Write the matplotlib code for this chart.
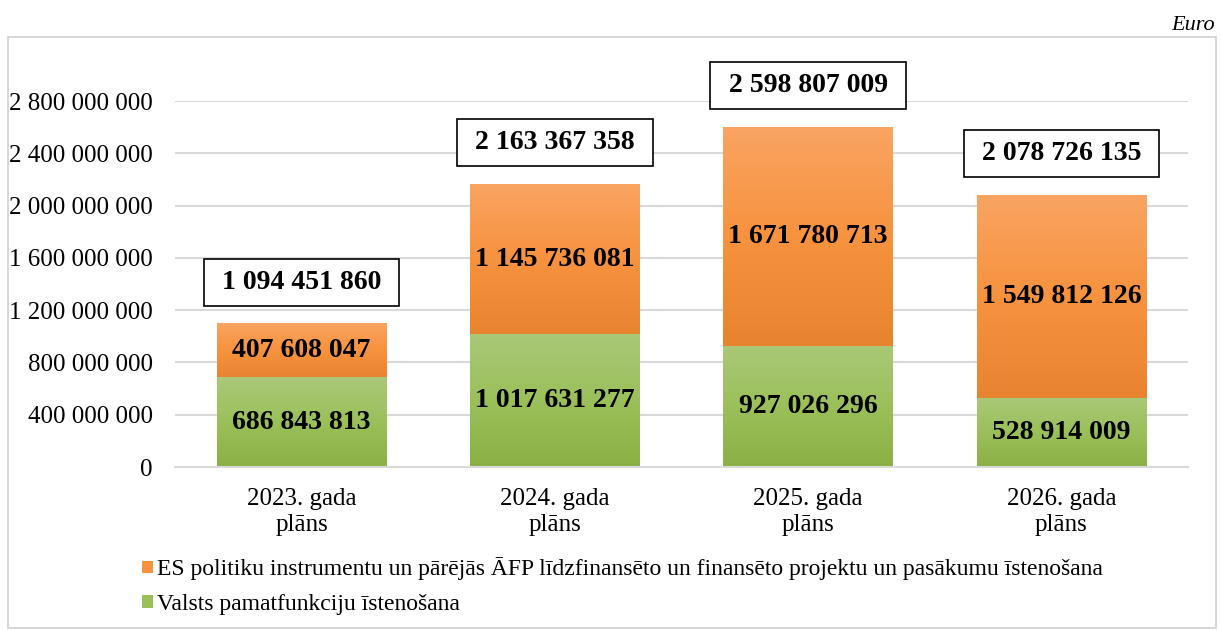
import matplotlib.pyplot as plt
import numpy as np
from matplotlib.colors import LinearSegmentedColormap
from matplotlib.patches import Rectangle

# dati
gadi = ["2023. gada\nplāns", "2024. gada\nplāns", "2025. gada\nplāns", "2026. gada\nplāns"]
valsts = [686843813, 1017631277, 927026296, 528914009]
es_afp = [407608047, 1145736081, 1671780713, 1549812126]
kopa = [1094451860, 2163367358, 2598807009, 2078726135]
y_ticks = [0, 400000000, 800000000, 1200000000, 1600000000, 2000000000, 2400000000, 2800000000]

nos_es = "ES politiku instrumentu un pārējās ĀFP līdzfinansēto un finansēto projektu un pasākumu īstenošana"
nos_valsts = "Valsts pamatfunkciju īstenošana"

plt.rcParams['font.family'] = ['Liberation Serif', 'DejaVu Serif']

def fmt(v):
    return f"{v:,}".replace(",", " ")

cm_oranzs = LinearSegmentedColormap.from_list("o", ["#E8832F", "#F7923E", "#F9A462"])
cm_zals = LinearSegmentedColormap.from_list("z", ["#8AB045", "#9BC05A", "#AAC878"])
grad = np.linspace(0, 1, 256).reshape(-1, 1)

fig = plt.figure(figsize=(12.21, 6.3), dpi=100)
fig.patches.append(Rectangle((8/1221, 2/630), 1208/1221, 591/630, transform=fig.transFigure,
                             fill=False, edgecolor="#D0D0D0", linewidth=1.2))
fig.text(1215/1221, 1 - 26/630, "Euro", ha="right", va="center", fontsize=16, style="italic")

ax = fig.add_axes([175/1221, 1 - 467/630, 1013/1221, 366/630])
x = np.arange(len(gadi))
w = 0.67

for i in x:
    ax.imshow(grad, cmap=cm_zals, origin="lower", aspect="auto",
              extent=[i - w/2, i + w/2, 0, valsts[i]], zorder=2)
    ax.imshow(grad, cmap=cm_oranzs, origin="lower", aspect="auto",
              extent=[i - w/2, i + w/2, valsts[i], kopa[i]], zorder=2)
    ax.text(i, valsts[i] / 2, fmt(valsts[i]), ha="center", va="center",
            fontsize=20, fontweight="bold", zorder=3)
    ax.text(i, valsts[i] + es_afp[i] / 2, fmt(es_afp[i]), ha="center", va="center",
            fontsize=20, fontweight="bold", zorder=3)
    ax.annotate(" " + fmt(kopa[i]) + " ", (i, kopa[i]), xytext=(0, 30), textcoords="offset points",
                ha="center", va="center", fontsize=20, fontweight="bold", annotation_clip=False,
                bbox=dict(boxstyle="square,pad=0.4", facecolor="white", edgecolor="black", linewidth=1.2),
                zorder=4)

ax.set_xlim(-0.5, 3.5)
ax.set_ylim(0, 2800000000)
ax.set_yticks(y_ticks)
ax.set_yticklabels([fmt(v) for v in y_ticks], fontsize=18)
ax.set_xticks(x)
ax.set_xticklabels(gadi, fontsize=18, linespacing=1.25)
ax.tick_params(length=0)
ax.tick_params(axis="x", pad=15)
ax.tick_params(axis="y", pad=16)
ax.grid(axis="y", color="#D9D9D9", linewidth=1.5, zorder=0)
ax.set_axisbelow(True)
for s in ["top", "right", "left"]:
    ax.spines[s].set_visible(False)
ax.spines["bottom"].set_color("#D9D9D9")
ax.spines["bottom"].set_linewidth(1.5)

h1 = Rectangle((0, 0), 1, 1, facecolor="#F7923E")
h2 = Rectangle((0, 0), 1, 1, facecolor="#9BC05A")
fig.legend([h1, h2], [nos_es, nos_valsts], loc="upper left", bbox_to_anchor=(133/1221, 1 - 548/630),
           frameon=False, fontsize=17, handlelength=0.45, handleheight=0.45, handletextpad=0.15,
           labelspacing=0.58, borderaxespad=0)

fig.savefig("out.png", dpi=100)
